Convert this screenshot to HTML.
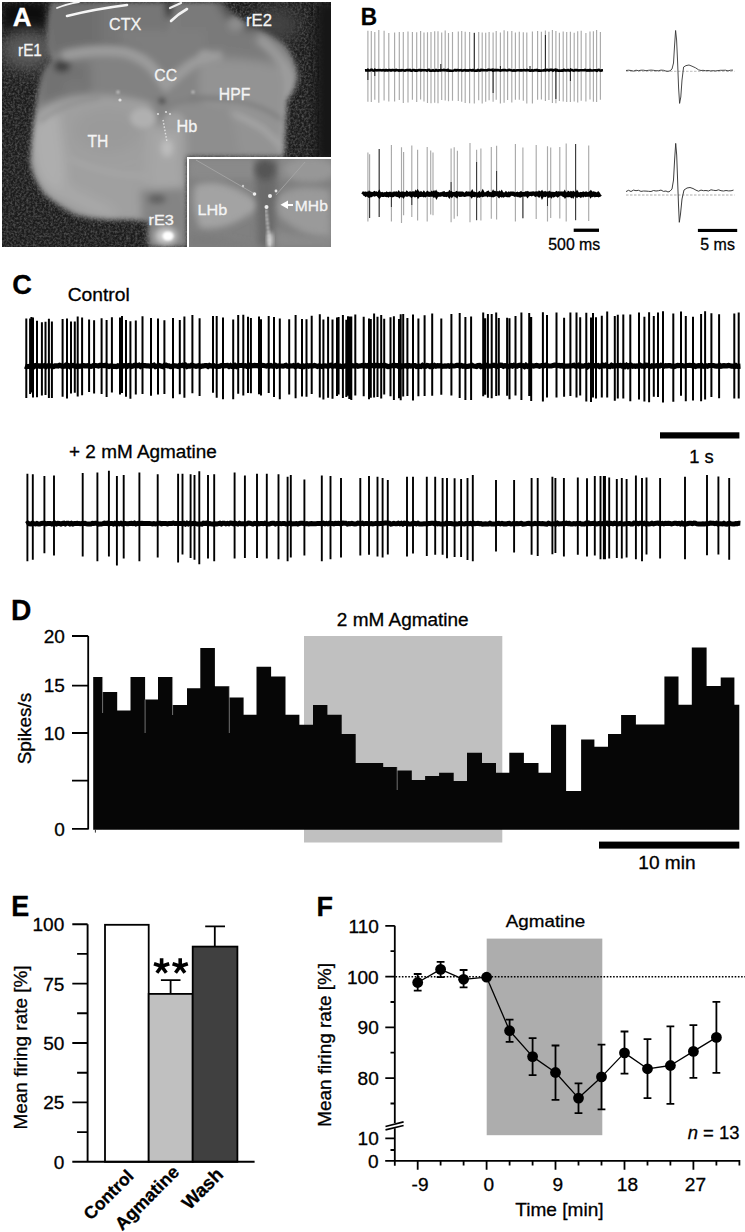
<!DOCTYPE html><html><head><meta charset="utf-8"><style>html,body{margin:0;padding:0;background:#fff;}svg{display:block;}text{font-family:"Liberation Sans",sans-serif;stroke:currentColor;stroke-width:0.3px;}</style></head><body>
<svg width="745" height="1232" viewBox="0 0 745 1232">
<rect width="745" height="1232" fill="#fff"/>
<defs>
<clipPath id="pa"><rect x="2" y="2" width="329" height="245"/></clipPath>
<clipPath id="pi"><rect x="189" y="159" width="142" height="88"/></clipPath>
<clipPath id="sil"><path d="M51 2 L222 2 Q232 14 252 26 Q270 34 284 44 Q296 58 298 76 Q296 90 287 100 L284 157 L187 157 L187 247 L149 247 Q146 232 149 222 Q130 219 112 220 Q90 219 75 215 Q58 206 45 195 Q34 182 30 164 Q31 140 35 112 Q37 92 41 80 Q44 68 52 60 Q47 52 47 40 Q46 20 51 2 Z"/></clipPath>
<filter id="b1" x="-20%" y="-20%" width="140%" height="140%"><feGaussianBlur stdDeviation="1"/></filter>
<filter id="b2" x="-20%" y="-20%" width="140%" height="140%"><feGaussianBlur stdDeviation="2"/></filter>
<filter id="b25" x="-10%" y="-10%" width="120%" height="120%"><feGaussianBlur stdDeviation="2.5"/></filter>
<filter id="b3" x="-20%" y="-20%" width="140%" height="140%"><feGaussianBlur stdDeviation="3"/></filter>
<filter id="b5" x="-30%" y="-30%" width="160%" height="160%"><feGaussianBlur stdDeviation="5"/></filter>
<filter id="b8" x="-40%" y="-40%" width="180%" height="180%"><feGaussianBlur stdDeviation="8"/></filter>
<filter id="grain" x="0" y="0" width="100%" height="100%"><feTurbulence type="fractalNoise" baseFrequency="0.45" numOctaves="2" seed="4"/><feColorMatrix type="matrix" values="0 0 0 0 0.22  0 0 0 0 0.22  0 0 0 0 0.22  0 0 0 1.1 -0.4"/></filter>
</defs>
<g clip-path="url(#pa)">
<rect x="2" y="2" width="329" height="245" fill="#1c1c1c"/>
<rect x="2" y="2" width="329" height="245" filter="url(#grain)"/>
<!-- dark corners -->
<rect x="2" y="2" width="45" height="30" fill="#0c0c0c" filter="url(#b5)"/>
<rect x="316" y="2" width="30" height="160" fill="#141414" filter="url(#b5)"/>
<!-- hazes -->
<ellipse cx="28" cy="50" rx="28" ry="20" fill="#5a5a5a" filter="url(#b8)"/>
<ellipse cx="275" cy="25" rx="24" ry="18" fill="#424242" filter="url(#b8)"/>
<ellipse cx="55" cy="80" rx="14" ry="14" fill="#4a4a4a" filter="url(#b5)"/>
<!-- tissue -->
<g filter="url(#b25)">
<g clip-path="url(#sil)">
<rect x="2" y="2" width="329" height="245" fill="#858585"/>
<!-- CTX left -->
<path d="M40 0 L168 0 L168 50 Q140 48 110 46 Q80 48 50 56 Z" fill="#6e6e6e" filter="url(#b3)"/>
<path d="M100 0 L168 0 L168 50 L100 46 Z" fill="#767676" filter="url(#b5)"/>
<!-- CTX right -->
<path d="M172 0 L230 0 Q250 20 280 40 L290 60 Q250 58 215 52 Q190 58 176 60 Z" fill="#7a7a7a" filter="url(#b3)"/>
<path d="M215 0 L235 0 Q245 14 262 28 Q250 34 232 26 Z" fill="#555" filter="url(#b3)"/>
<ellipse cx="236" cy="24" rx="9" ry="8" fill="#8c8c8c" filter="url(#b2)"/>
<!-- inside V above CC -->
<path d="M120 40 Q150 50 165 78 Q180 62 205 48 L205 30 L120 30 Z" fill="#7e7e7e" filter="url(#b3)"/>
<!-- mid notch -->
<path d="M164 2 L174 2 L171 18 L167 18 Z" fill="#3a3a3a" filter="url(#b2)"/>
<!-- below CC dark-ish zone -->
<path d="M40 60 Q90 52 140 62 Q160 80 165 95 L165 104 Q120 96 70 100 Q50 102 40 110 Z" fill="#828282" filter="url(#b3)"/>
<path d="M40 62 Q65 58 90 62 L90 95 Q60 98 40 105 Z" fill="#727272" filter="url(#b5)"/>
<ellipse cx="62" cy="66" rx="8" ry="6" fill="#3c3c3c" filter="url(#b2)"/>
<ellipse cx="75" cy="88" rx="12" ry="8" fill="#777" filter="url(#b3)"/>
<!-- HPF light -->
<path d="M200 62 Q245 56 290 70 L292 100 L286 157 L230 157 Q215 130 205 110 Q195 95 200 62 Z" fill="#939393" filter="url(#b3)"/>
<path d="M215 108 Q240 115 262 128 Q275 140 285 150" stroke="#a8a8a8" stroke-width="5" fill="none" filter="url(#b2)"/>
<path d="M190 98 Q220 96 250 104 Q270 110 285 122" stroke="#7a7a7a" stroke-width="3" fill="none" filter="url(#b1)"/>
<path d="M258 38 Q284 56 290 80 Q289 120 283 156" stroke="#a0a0a0" stroke-width="9" fill="none" filter="url(#b3)"/>
<ellipse cx="205" cy="56" rx="7" ry="6" fill="#a0a0a0" filter="url(#b2)"/>
<!-- middle band right of midline -->
<path d="M172 104 L230 104 L240 157 L187 157 L175 150 Z" fill="#8e8e8e" filter="url(#b3)"/>
<!-- CC band -->
<path d="M62 56 Q95 48 125 52 Q145 58 156 72 Q162 82 166 86 Q178 74 192 64 Q205 56 222 56" stroke="#9c9c9c" stroke-width="10" fill="none" filter="url(#b2)"/>
<!-- dark line below CC -->
<path d="M60 98 Q110 94 150 98 Q162 100 170 104 Q200 96 230 100" stroke="#7c7c7c" stroke-width="2.5" fill="none" filter="url(#b1)"/>
<!-- TH -->
<path d="M36 114 Q50 100 75 96 Q110 92 150 102 Q158 130 155 170 Q150 200 145 219 Q120 221 90 218 Q62 208 45 195 Q32 175 32 150 Z" fill="#a0a0a0" filter="url(#b3)"/>
<path d="M32 130 Q40 112 58 110 Q66 150 66 195 Q50 192 40 178 Q31 158 32 130 Z" fill="#aeaeae" filter="url(#b5)"/>
<path d="M60 195 Q85 214 120 219 L110 205 Q85 195 60 180 Z" fill="#a8a8a8" filter="url(#b5)"/>
<ellipse cx="108" cy="130" rx="35" ry="22" fill="#9a9a9a" filter="url(#b8)"/>
<path d="M68 158 Q105 176 150 176" stroke="#a9a9a9" stroke-width="3" fill="none" filter="url(#b1)"/>
<path d="M40 122 Q60 104 100 98" stroke="#8a8a8a" stroke-width="2.5" fill="none" filter="url(#b1)"/>
<!-- middle column -->
<path d="M148 125 L184 125 L187 205 L146 205 Z" fill="#a6a6a6" filter="url(#b5)"/>
<ellipse cx="167" cy="148" rx="6" ry="9" fill="#bdbdbd" filter="url(#b2)"/>
<!-- rE3 region -->
<path d="M140 190 L187 188 L187 247 L145 247 Q142 225 140 190 Z" fill="#848484" filter="url(#b3)"/>
<ellipse cx="157" cy="199" rx="9" ry="5" fill="#606060" filter="url(#b2)"/>
<!-- Hb lobes -->
<ellipse cx="143" cy="118" rx="13" ry="10" fill="#b0b0b0" filter="url(#b1)"/>
<ellipse cx="174" cy="121" rx="11" ry="9" fill="#9f9f9f" filter="url(#b1)"/>
<ellipse cx="162" cy="101" rx="3" ry="3" fill="#3a3a3a" filter="url(#b1)"/>
</g>
</g>
<!-- bottom-left dark pocket under TH near rE3 -->
<!-- dots -->
<path d="M163 120 L167 142" stroke="#e0e0e0" stroke-width="1.4" stroke-dasharray="1.5,1.8" fill="none"/>
<circle cx="118" cy="92" r="1.5" fill="#d0d0d0" filter="url(#b1)"/>
<circle cx="120" cy="100" r="1.6" fill="#e0e0e0"/>
<circle cx="158" cy="114" r="1.1" fill="#ddd"/>
<circle cx="166" cy="112" r="1.1" fill="#ddd"/>
<circle cx="170" cy="114" r="1.1" fill="#ddd"/>
<circle cx="193" cy="92" r="1.5" fill="#c8c8c8" filter="url(#b1)"/>
<!-- bright spot rE3 -->
<ellipse cx="166" cy="236" rx="11" ry="8.5" fill="#cfcfcf" filter="url(#b3)"/>
<ellipse cx="168" cy="236" rx="5.5" ry="4.5" fill="#fff" filter="url(#b1)"/>
<!-- electrodes -->
<path d="M57 8 Q66 4 79 2" stroke="#f2f2f2" stroke-width="1.8" fill="none" stroke-linecap="round"/>
<path d="M67 16 Q95 9 127 5" stroke="#f6f6f6" stroke-width="2.6" fill="none" stroke-linecap="round"/>
<path d="M170 8 L181 3" stroke="#eee" stroke-width="2.2" fill="none" stroke-linecap="round"/>
<path d="M171 21 Q178 14 187 9" stroke="#f2f2f2" stroke-width="2.6" fill="none" stroke-linecap="round"/>
</g>
<!-- inset -->
<rect x="187" y="157" width="144" height="91" fill="#fff"/>
<g clip-path="url(#pi)">
<rect x="189" y="159" width="142" height="88" fill="#808080"/>
<g filter="url(#b1)">
<rect x="189" y="159" width="142" height="20" fill="#8a8a8a" filter="url(#b3)"/>
<ellipse cx="310" cy="170" rx="25" ry="12" fill="#979797" filter="url(#b3)"/>
<path d="M195 185 Q225 175 262 205 Q230 232 200 228 Q190 205 195 185 Z" fill="#a3a3a3" filter="url(#b3)"/>
<path d="M268 205 Q290 180 330 190 L331 238 Q300 240 268 205 Z" fill="#9a9a9a" filter="url(#b3)"/>
<path d="M255 159 L278 159 L274 247 L258 247 Z" fill="#6a6a6a" filter="url(#b3)"/>
<ellipse cx="265" cy="170" rx="10" ry="10" fill="#555" filter="url(#b3)"/>
<path d="M189 232 Q230 240 262 247 L189 247 Z" fill="#7c7c7c" filter="url(#b3)"/>
<path d="M276 230 Q300 238 331 236 L331 247 L276 247 Z" fill="#8a8a8a" filter="url(#b3)"/>
</g>
<path d="M266 210 L270 247" stroke="#e6e6e6" stroke-width="2.2" stroke-dasharray="2.5,1.6" fill="none" filter="url(#b1)"/>
<ellipse cx="270" cy="240" rx="3" ry="8" fill="#d8d8d8" filter="url(#b2)"/>
<path d="M196 160 L253 193 M305 162 L276 195" stroke="#a8a8a8" stroke-width="0.8" fill="none"/>
<circle cx="254.5" cy="194" r="1.8" fill="#f0f0f0"/>
<circle cx="270" cy="196" r="2" fill="#f0f0f0"/>
<circle cx="276" cy="191" r="1.4" fill="#e8e8e8"/>
<circle cx="266.5" cy="207" r="2" fill="#eee"/>
<circle cx="243" cy="186" r="1.2" fill="#ccc"/>
<path d="M293 205 L284 205" stroke="#fff" stroke-width="2" fill="none"/>
<path d="M280.5 204.8 L288 200.5 L288 209 Z" fill="#fff"/>
</g>

<g>
<text transform="translate(12.72,26.15) scale(1.030,1)" font-size="25.29" font-weight="bold" fill="#fff" color="#fff">A</text>
<text transform="translate(109.09,29.63) scale(0.971,1)" font-size="16.62" fill="#f4f4f4" color="#f4f4f4">CTX</text>
<text transform="translate(18.03,56.00) scale(0.913,1)" font-size="16.81" fill="#f4f4f4" color="#f4f4f4">rE1</text>
<text transform="translate(246.03,26.10) scale(1.023,1)" font-size="16.29" fill="#f4f4f4" color="#f4f4f4">rE2</text>
<text transform="translate(154.31,80.74) scale(0.974,1)" font-size="16.20" fill="#f4f4f4" color="#f4f4f4">CC</text>
<text transform="translate(218.84,99.60) scale(0.997,1)" font-size="15.80" fill="#f4f4f4" color="#f4f4f4">HPF</text>
<text transform="translate(176.60,132.00) scale(1.034,1)" font-size="15.75" fill="#f4f4f4" color="#f4f4f4">Hb</text>
<text transform="translate(87.49,146.80) scale(0.918,1)" font-size="17.10" fill="#f4f4f4" color="#f4f4f4">TH</text>
<text transform="translate(148.56,224.85) scale(1.093,1)" font-size="14.93" fill="#f4f4f4" color="#f4f4f4">rE3</text>
<text transform="translate(197.50,214.90) scale(1.089,1)" font-size="14.93" fill="#f4f4f4" color="#f4f4f4">LHb</text>
<text transform="translate(294.85,211.40) scale(1.066,1)" font-size="14.66" fill="#f4f4f4" color="#f4f4f4">MHb</text>
</g>
<text transform="translate(360.82,24.80) scale(0.946,1)" font-size="23.91" font-weight="bold" fill="#000" color="#000">B</text>
<path d="M367.9 30.7V101.7M371.3 31.1V101.9M374.8 31.9V99.8M378.8 30.0V102.8M384.1 30.8V100.4M388.8 33.0V101.4M394.6 32.5V101.4M399.3 31.9V100.1M403.3 31.9V103.0M408.0 31.6V102.5M412.4 32.0V99.8M416.7 32.3V101.9M420.6 30.9V99.6M424.0 32.6V101.4M427.5 32.2V103.0M431.0 32.1V103.2M434.7 31.2V102.7M438.0 31.3V103.2M441.7 32.6V99.9M445.2 30.4V100.4M448.5 32.9V101.2M452.5 31.9V100.7M458.3 31.5V101.0M461.7 31.1V101.8M465.2 31.8V103.1M469.6 32.0V103.2M474.3 32.6V103.5M478.7 32.0V100.2M482.2 32.6V103.4M485.7 32.7V101.8M489.1 32.1V100.3M493.1 32.5V101.8M496.2 30.9V99.8M500.4 32.6V103.5M504.1 30.3V102.7M507.6 31.2V100.1M511.8 30.9V102.6M515.4 32.6V99.7M519.3 31.8V99.7M523.3 32.2V100.8M526.8 32.6V103.4M532.4 31.5V103.5M537.6 30.9V99.8M541.4 31.8V99.6M545.4 30.6V101.1M548.9 31.8V100.1M552.4 30.1V103.0M555.9 30.9V103.3M559.4 32.7V101.0M563.2 31.4V101.6M566.7 31.9V101.9M570.4 31.7V102.0M574.2 32.8V101.5M577.7 31.3V102.4M581.2 30.7V100.7M585.9 32.9V101.6M590.0 31.6V99.5M593.4 31.2V101.8M596.6 30.1V102.0M600.4 31.9V99.7" stroke="#aaa" stroke-width="1.15" fill="none"/>
<path d="M474.3 33V72M545.4 35V72M493.1 68V93M555.9 68V99M570.4 68V81M367.9 68V80M374.8 68V76M440.8 64V72M500.4 66V72M530 66V72" stroke="#222" stroke-width="1" fill="none"/>
<polyline points="365.0,70.4 366.0,70.3 367.0,70.5 368.0,70.2 369.0,70.5 370.0,70.5 371.0,69.9 372.0,69.9 373.0,70.5 374.0,70.7 375.0,70.1 376.0,70.3 377.0,70.4 378.0,70.1 379.0,70.2 380.0,70.1 381.0,70.2 382.0,70.4 383.0,70.1 384.0,70.2 385.0,70.5 386.0,69.9 387.0,70.4 388.0,70.5 389.0,70.1 390.0,70.1 391.0,70.6 392.0,70.1 393.0,70.0 394.0,70.2 395.0,70.5 396.0,69.9 397.0,70.1 398.0,70.2 399.0,70.6 400.0,70.2 401.0,70.6 402.0,70.0 403.0,70.2 404.0,70.4 405.0,70.6 406.0,70.3 407.0,70.1 408.0,70.0 409.0,70.3 410.0,70.0 411.0,70.6 412.0,70.6 413.0,70.0 414.0,70.1 415.0,70.6 416.0,70.4 417.0,70.6 418.0,70.2 419.0,70.0 420.0,70.1 421.0,70.6 422.0,70.1 423.0,70.2 424.0,70.2 425.0,70.2 426.0,70.2 427.0,70.7 428.0,70.0 429.0,69.9 430.0,70.7 431.0,70.6 432.0,70.7 433.0,70.2 434.0,70.7 435.0,70.7 436.0,70.0 437.0,70.5 438.0,70.6 439.0,70.4 440.0,70.3 441.0,70.1 442.0,70.2 443.0,70.1 444.0,69.9 445.0,70.4 446.0,70.1 447.0,70.6 448.0,69.9 449.0,70.7 450.0,70.5 451.0,70.7 452.0,70.7 453.0,70.7 454.0,70.4 455.0,69.9 456.0,70.5 457.0,70.0 458.0,70.1 459.0,70.4 460.0,70.3 461.0,70.2 462.0,70.7 463.0,70.4 464.0,70.2 465.0,70.1 466.0,70.6 467.0,70.3 468.0,70.6 469.0,70.2 470.0,70.0 471.0,70.3 472.0,70.6 473.0,70.0 474.0,70.6 475.0,70.7 476.0,70.6 477.0,70.6 478.0,69.9 479.0,70.4 480.0,70.6 481.0,69.9 482.0,70.1 483.0,70.1 484.0,70.3 485.0,70.2 486.0,70.3 487.0,70.5 488.0,69.9 489.0,69.9 490.0,70.0 491.0,70.0 492.0,69.9 493.0,70.7 494.0,70.6 495.0,69.9 496.0,70.3 497.0,70.1 498.0,70.1 499.0,70.2 500.0,70.4 501.0,70.4 502.0,70.2 503.0,70.0 504.0,70.1 505.0,70.0 506.0,70.3 507.0,70.5 508.0,70.2 509.0,69.9 510.0,70.0 511.0,70.2 512.0,70.4 513.0,70.6 514.0,70.2 515.0,70.6 516.0,70.4 517.0,70.2 518.0,70.2 519.0,70.3 520.0,70.5 521.0,70.2 522.0,70.5 523.0,70.3 524.0,70.1 525.0,70.3 526.0,70.5 527.0,69.9 528.0,70.2 529.0,70.2 530.0,70.6 531.0,70.7 532.0,70.2 533.0,70.7 534.0,70.6 535.0,70.1 536.0,70.3 537.0,70.0 538.0,70.6 539.0,70.4 540.0,70.6 541.0,70.6 542.0,70.5 543.0,70.5 544.0,70.4 545.0,69.9 546.0,70.4 547.0,69.9 548.0,70.0 549.0,70.5 550.0,69.9 551.0,69.9 552.0,69.9 553.0,70.6 554.0,70.0 555.0,69.9 556.0,70.6 557.0,70.0 558.0,70.6 559.0,70.5 560.0,70.6 561.0,70.7 562.0,70.4 563.0,70.6 564.0,69.9 565.0,70.5 566.0,70.3 567.0,70.5 568.0,69.9 569.0,70.5 570.0,70.7 571.0,69.9 572.0,70.1 573.0,70.4 574.0,70.6 575.0,70.1 576.0,70.0 577.0,70.1 578.0,70.4 579.0,70.5 580.0,70.2 581.0,70.2 582.0,70.2 583.0,70.2 584.0,70.2 585.0,69.9 586.0,70.3 587.0,70.7 588.0,70.2 589.0,70.5 590.0,70.0 591.0,70.5 592.0,70.5 593.0,70.5 594.0,70.3 595.0,70.3 596.0,70.4 597.0,70.7 598.0,70.0 599.0,69.9 600.0,70.5 601.0,70.7 602.0,70.3 603.0,70.2" stroke="#000" stroke-width="2.6" fill="none"/>
<path d="M367.9 152.5V221.4M369.6 154.2V217.9M379.2 149.0V217.0M391.4 145.1V221.4M401.5 147.2V223.1M403.6 152.1V215.3M411.8 145.5V217.0M417.6 149.8V220.5M427.2 146.9V221.4M430.7 150.4V214.4M433.0 152.5V215.3M451.1 148.6V222.3M454.2 147.2V218.8M457.4 150.7V216.2M470.0 142.9V222.3M476.6 149.8V220.5M480.9 148.6V220.5M491.3 146.9V218.8M496.6 145.8V219.6M515.4 144.1V221.4M522.9 147.6V218.8M536.2 145.1V219.1M547.5 146.3V221.4M550.7 147.6V217.9M559.8 146.9V218.4M566.2 143.4V221.4M575.6 144.1V220.5M588.7 145.5V220.9" stroke="#aaa" stroke-width="1.15" fill="none"/>
<path d="M379.2 149V217M476.6 162V220M496.6 171V192M522.9 195V218M575.6 144V220M391.4 194V207M411.8 194V205M369.6 194V218M547.5 194V206M451.1 182V194" stroke="#333" stroke-width="1" fill="none"/>
<polyline points="363.0,194.7 363.7,193.7 364.4,193.9 365.1,193.8 365.8,194.5 366.5,194.0 367.2,193.8 367.9,194.6 368.6,195.1 369.3,193.9 370.0,194.7 370.7,194.1 371.4,194.9 372.1,194.5 372.8,193.9 373.5,193.8 374.2,193.4 374.9,194.3 375.6,194.1 376.3,193.7 377.0,194.0 377.7,194.0 378.4,194.8 379.1,193.7 379.8,195.2 380.5,194.3 381.2,194.5 381.9,194.2 382.6,194.9 383.3,194.9 384.0,194.4 384.7,194.3 385.4,194.7 386.1,194.9 386.8,194.1 387.5,194.7 388.2,195.1 388.9,194.2 389.6,193.8 390.3,193.8 391.0,194.7 391.7,194.6 392.4,195.1 393.1,194.9 393.8,193.8 394.5,193.7 395.2,193.9 395.9,193.7 396.6,194.7 397.3,194.9 398.0,195.0 398.7,193.9 399.4,195.0 400.1,194.0 400.8,194.2 401.5,194.7 402.2,193.6 402.9,193.6 403.6,194.9 404.3,193.9 405.0,194.0 405.7,194.4 406.4,194.6 407.1,193.4 407.8,194.0 408.5,194.2 409.2,194.3 409.9,193.8 410.6,194.5 411.3,195.1 412.0,194.1 412.7,194.4 413.4,193.6 414.1,193.9 414.8,194.6 415.5,193.6 416.2,195.0 416.9,195.0 417.6,193.6 418.3,195.1 419.0,194.1 419.7,194.8 420.4,194.8 421.1,193.9 421.8,194.6 422.5,194.6 423.2,194.9 423.9,193.9 424.6,194.8 425.3,195.1 426.0,194.6 426.7,194.4 427.4,193.6 428.1,194.3 428.8,194.0 429.5,194.7 430.2,194.6 430.9,194.4 431.6,193.7 432.3,194.6 433.0,194.5 433.7,193.7 434.4,195.0 435.1,194.6 435.8,193.6 436.5,195.1 437.2,193.7 437.9,194.0 438.6,194.7 439.3,194.5 440.0,194.4 440.7,194.6 441.4,194.2 442.1,194.0 442.8,193.7 443.5,193.5 444.2,194.7 444.9,194.8 445.6,194.4 446.3,194.7 447.0,194.0 447.7,193.9 448.4,194.1 449.1,195.0 449.8,193.5 450.5,194.3 451.2,193.8 451.9,194.8 452.6,194.0 453.3,194.0 454.0,194.1 454.7,194.4 455.4,194.8 456.1,194.0 456.8,194.9 457.5,193.6 458.2,193.9 458.9,193.6 459.6,193.6 460.3,194.8 461.0,194.7 461.7,193.7 462.4,193.7 463.1,194.1 463.8,194.7 464.5,194.9 465.2,194.7 465.9,194.5 466.6,193.7 467.3,194.1 468.0,193.7 468.7,194.3 469.4,194.4 470.1,193.8 470.8,193.9 471.5,194.8 472.2,193.5 472.9,194.8 473.6,195.0 474.3,195.1 475.0,194.1 475.7,194.4 476.4,194.4 477.1,194.5 477.8,195.2 478.5,194.6 479.2,193.9 479.9,194.9 480.6,194.3 481.3,194.5 482.0,194.7 482.7,193.4 483.4,194.8 484.1,194.6 484.8,194.3 485.5,194.3 486.2,194.2 486.9,193.7 487.6,194.4 488.3,193.5 489.0,194.3 489.7,194.6 490.4,194.2 491.1,194.4 491.8,195.1 492.5,195.0 493.2,193.6 493.9,194.8 494.6,194.5 495.3,193.5 496.0,194.0 496.7,193.8 497.4,193.5 498.1,194.4 498.8,195.1 499.5,194.0 500.2,195.0 500.9,194.7 501.6,193.6 502.3,194.9 503.0,194.5 503.7,195.1 504.4,194.7 505.1,194.7 505.8,194.0 506.5,194.9 507.2,195.1 507.9,195.0 508.6,194.2 509.3,194.8 510.0,194.3 510.7,193.6 511.4,193.5 512.1,193.5 512.8,193.8 513.5,193.7 514.2,194.3 514.9,194.7 515.6,194.4 516.3,194.2 517.0,194.6 517.7,193.9 518.4,194.2 519.1,194.8 519.8,194.1 520.5,193.7 521.2,195.0 521.9,194.7 522.6,194.1 523.3,194.1 524.0,194.4 524.7,194.5 525.4,193.8 526.1,193.4 526.8,193.8 527.5,194.8 528.2,193.7 528.9,194.2 529.6,193.8 530.3,193.8 531.0,193.7 531.7,194.1 532.4,193.7 533.1,193.4 533.8,193.6 534.5,193.7 535.2,194.3 535.9,193.5 536.6,193.4 537.3,194.2 538.0,194.1 538.7,194.7 539.4,193.5 540.1,194.1 540.8,194.1 541.5,193.4 542.2,195.1 542.9,193.8 543.6,193.6 544.3,194.3 545.0,193.7 545.7,194.5 546.4,194.0 547.1,193.6 547.8,193.5 548.5,194.7 549.2,193.9 549.9,194.8 550.6,194.2 551.3,195.1 552.0,193.9 552.7,193.8 553.4,193.9 554.1,194.9 554.8,194.5 555.5,194.0 556.2,193.6 556.9,194.6 557.6,195.1 558.3,194.5 559.0,193.4 559.7,193.5 560.4,193.6 561.1,193.7 561.8,193.5 562.5,193.5 563.2,194.6 563.9,195.0 564.6,193.8 565.3,195.2 566.0,194.3 566.7,194.8 567.4,195.1 568.1,195.1 568.8,193.5 569.5,193.9 570.2,194.5 570.9,195.1 571.6,193.6 572.3,193.9 573.0,194.9 573.7,193.6 574.4,194.1 575.1,194.0 575.8,194.6 576.5,195.1 577.2,193.7 577.9,194.7 578.6,194.7 579.3,194.9 580.0,194.4 580.7,195.1 581.4,194.1 582.1,194.1 582.8,193.8 583.5,194.8 584.2,194.3 584.9,193.9 585.6,193.7 586.3,194.7 587.0,194.5 587.7,194.7 588.4,194.1 589.1,194.3 589.8,193.7 590.5,194.7 591.2,193.4 591.9,194.2 592.6,194.8 593.3,194.6 594.0,193.6 594.7,193.8 595.4,194.9 596.1,194.6 596.8,195.0 597.5,195.0 598.2,194.2 598.9,195.0 599.6,194.7 600.3,194.0" stroke="#000" stroke-width="4.2" fill="none"/>
<line x1="626" y1="71.3" x2="734.5" y2="71.3" stroke="#aaa" stroke-width="0.8" stroke-dasharray="2.5,1.5"/>
<polyline points="626.0,70.5 628.5,70.2 631.0,70.5 633.5,71.1 636.0,70.2 638.5,70.7 641.0,70.2 643.5,70.2 646.0,70.7 648.5,70.3 651.0,70.1 653.5,70.3 656.0,70.7 658.5,70.7 661.0,70.1 663.5,70.3 666.0,71.1 668,71.3 670,70.8 672,69 673.5,63 674.6,45 675.6,30.5 676.6,40 677.6,62 678.6,88 679.6,103.4 680.8,97 682,80 683.6,67 686,65.6 689,65 692,66.2 695.7,67.9 698.5,69.8 701,70.5 703.0,70.3 705.5,70.7 708.0,70.5 710.5,70.9 713.0,70.7 715.5,70.9 718.0,70.6 720.5,70.3 723.0,70.3 725.5,70.2 728.0,70.9 730.5,70.2 733.0,70.1" stroke="#333" stroke-width="0.9" fill="none" stroke-linejoin="round"/>
<line x1="626" y1="195" x2="734.5" y2="195" stroke="#999" stroke-width="0.8" stroke-dasharray="2.5,1.5"/>
<polyline points="626.0,191.6 628.5,190.3 631.0,191.5 633.5,190.1 636.0,190.7 638.5,190.3 641.0,191.4 643.5,191.0 646.0,191.1 648.5,191.3 651.0,191.5 653.5,190.5 656.0,191.0 658.5,190.7 661.0,190.1 663.5,191.4 666.0,191.0 668,192 670,191.2 672,189 673.5,180 674.6,160 675.7,143.4 676.7,155 677.6,180 678.5,205 679.3,222.3 680.5,214 682,199 684,190 687,188 690,187.5 693,188.5 696,190.2 698.5,191.2 701.0,190.1 703.5,190.7 706.0,190.5 708.5,191.0 711.0,189.8 713.5,190.3 716.0,190.6 718.5,189.8 721.0,190.7 723.5,191.0 726.0,190.5 728.5,190.9 731.0,190.8 733.5,190.1" stroke="#333" stroke-width="0.95" fill="none" stroke-linejoin="round"/>
<rect x="573.7" y="228.6" width="25.3" height="3.3" fill="#000"/>
<text transform="translate(548.26,249.74) scale(0.980,1)" font-size="16.20" fill="#000" color="#000">500 ms</text>
<rect x="697.9" y="228.9" width="39.3" height="3.1" fill="#000"/>
<text transform="translate(700.26,249.54) scale(0.981,1)" font-size="16.29" fill="#000" color="#000">5 ms</text>
<text transform="translate(12.21,294.42) scale(0.986,1)" font-size="27.61" font-weight="bold" fill="#000" color="#000">C</text>
<text transform="translate(67.64,301.12) scale(1.072,1)" font-size="17.97" fill="#000" color="#000">Control</text>
<path d="M26.3 318.6V398.0M30.1 318.5V394.1M31.4 316.9V392.6M33.0 317.4V397.6M37.0 320.7V397.3M41.9 322.2V395.5M45.5 321.8V395.0M48.9 318.7V397.9M51.9 321.5V398.0M62.6 319.0V396.8M67.0 318.5V398.4M71.0 321.5V393.5M74.8 321.6V392.8M77.7 316.5V396.6M82.1 317.6V395.2M89.1 319.6V391.9M94.1 320.2V393.5M101.6 318.3V394.1M106.6 320.1V396.9M111.9 317.3V392.5M120.0 317.4V394.6M122.0 316.0V392.9M126.0 320.1V396.7M130.4 321.3V398.7M135.8 320.6V394.5M142.5 316.3V394.1M151.0 318.1V395.7M158.0 318.5V394.6M164.4 320.3V394.1M173.0 317.9V398.3M179.8 320.0V394.2M184.4 316.5V397.8M192.4 315.1V393.2M199.6 318.2V396.0M213.0 315.9V392.7M216.7 316.1V397.7M223.0 317.6V399.2M233.2 319.5V399.3M238.2 315.0V393.8M243.3 314.8V395.5M248.0 316.7V392.9M250.9 317.9V393.2M259.0 316.4V394.3M261.0 319.3V395.6M268.7 316.0V393.0M274.0 317.0V397.1M279.8 318.4V399.2M289.2 319.2V394.5M295.6 315.1V398.2M302.0 319.0V396.4M306.5 319.2V396.8M311.7 315.8V394.1M319.8 314.2V397.5M323.4 319.4V399.4M328.1 316.8V397.7M332.5 319.5V398.8M337.0 317.5V396.1M338.6 317.0V394.4M342.9 314.9V398.0M346.3 319.7V397.1M348.0 316.2V395.8M349.3 316.4V399.0M351.3 316.4V400.1M355.3 314.5V395.6M363.7 316.7V396.3M369.0 318.6V399.3M370.8 319.0V397.8M374.1 313.6V397.6M377.5 316.7V397.0M381.2 315.0V398.6M384.2 318.7V394.4M390.5 317.2V396.3M393.9 316.3V400.0M399.0 318.9V398.3M400.7 314.3V400.3M403.2 314.1V396.6M407.4 318.0V396.1M413.0 314.6V400.6M418.4 318.6V396.2M424.6 315.2V396.0M432.2 313.6V395.8M441.3 318.6V394.7M451.4 314.1V395.6M459.7 313.1V397.9M465.4 317.1V400.1M471.1 316.4V400.0M483.2 312.6V396.3M485.2 318.3V394.8M487.9 314.0V397.8M491.7 314.0V398.2M496.2 312.6V396.1M498.8 318.0V395.5M507.1 317.7V395.8M509.5 318.2V399.3M515.5 316.0V395.6M521.4 312.4V400.0M529.2 313.1V396.0M531.2 317.0V400.9M542.9 312.3V401.5M547.0 315.1V397.5M556.5 312.5V397.6M564.1 317.8V396.8M570.4 312.6V395.9M576.5 312.5V397.4M580.2 317.2V395.5M586.3 312.8V401.6M591.0 317.6V401.9M593.0 313.0V397.6M596.0 317.2V398.5M601.8 315.7V397.4M607.2 311.6V397.6M614.8 315.9V400.7M617.8 314.7V398.6M623.3 314.5V398.4M630.3 314.4V401.2M639.0 312.4V399.6M644.4 316.7V401.4M649.1 312.2V402.2M653.8 316.1V396.7M658.0 312.6V397.0M663.0 311.3V402.5M673.3 313.4V401.8M681.0 311.6V395.8M685.8 316.0V401.3M693.0 316.7V400.6M701.1 313.9V401.2M705.1 311.2V399.6M711.4 313.3V396.9M719.1 314.2V398.2M734.3 313.6V398.6M738.7 312.4V398.5" stroke="#000" stroke-width="2" fill="none"/>
<polyline points="25.0,366.0 26.5,366.6 28.0,366.5 29.5,366.4 31.0,366.4 32.5,365.6 34.0,366.6 35.5,365.6 37.0,365.4 38.5,365.9 40.0,366.2 41.5,365.7 43.0,366.1 44.5,365.6 46.0,366.6 47.5,365.8 49.0,365.9 50.5,365.9 52.0,366.4 53.5,366.6 55.0,365.9 56.5,365.8 58.0,366.1 59.5,365.3 61.0,365.8 62.5,366.4 64.0,366.3 65.5,365.3 67.0,366.4 68.5,365.7 70.0,366.6 71.5,365.7 73.0,365.5 74.5,366.0 76.0,366.4 77.5,365.8 79.0,366.4 80.5,366.2 82.0,365.7 83.5,365.6 85.0,365.9 86.5,365.8 88.0,365.7 89.5,366.1 91.0,366.4 92.5,366.0 94.0,365.4 95.5,365.5 97.0,365.7 98.5,366.1 100.0,365.4 101.5,365.3 103.0,365.6 104.5,365.6 106.0,365.2 107.5,366.0 109.0,366.5 110.5,365.9 112.0,366.2 113.5,366.4 115.0,366.4 116.5,366.5 118.0,365.8 119.5,366.2 121.0,365.4 122.5,366.4 124.0,365.7 125.5,365.9 127.0,366.4 128.5,365.6 130.0,365.5 131.5,366.4 133.0,366.0 134.5,365.3 136.0,365.2 137.5,365.7 139.0,365.2 140.5,366.4 142.0,365.5 143.5,365.6 145.0,365.7 146.5,365.9 148.0,365.8 149.5,366.1 151.0,366.1 152.5,365.8 154.0,365.3 155.5,366.6 157.0,366.2 158.5,365.3 160.0,365.8 161.5,366.3 163.0,366.6 164.5,365.3 166.0,365.2 167.5,365.9 169.0,365.8 170.5,366.5 172.0,366.4 173.5,365.7 175.0,365.8 176.5,366.0 178.0,366.4 179.5,365.5 181.0,365.7 182.5,365.3 184.0,366.1 185.5,365.2 187.0,366.5 188.5,365.9 190.0,366.0 191.5,365.3 193.0,365.5 194.5,365.9 196.0,366.4 197.5,366.0 199.0,365.6 200.5,366.6 202.0,366.1 203.5,365.9 205.0,365.5 206.5,365.6 208.0,366.5 209.5,365.4 211.0,365.9 212.5,366.1 214.0,365.7 215.5,366.3 217.0,366.5 218.5,366.4 220.0,366.2 221.5,365.5 223.0,365.3 224.5,365.8 226.0,365.6 227.5,365.5 229.0,366.4 230.5,365.5 232.0,366.4 233.5,366.5 235.0,365.4 236.5,366.5 238.0,365.8 239.5,365.5 241.0,365.5 242.5,365.3 244.0,365.9 245.5,365.7 247.0,366.4 248.5,366.4 250.0,365.3 251.5,365.8 253.0,365.7 254.5,365.4 256.0,365.6 257.5,365.6 259.0,366.2 260.5,365.7 262.0,365.4 263.5,365.5 265.0,365.8 266.5,366.0 268.0,365.5 269.5,366.2 271.0,365.5 272.5,366.1 274.0,366.1 275.5,365.4 277.0,366.3 278.5,365.8 280.0,366.0 281.5,366.0 283.0,366.1 284.5,365.8 286.0,365.3 287.5,366.3 289.0,366.4 290.5,365.9 292.0,366.0 293.5,365.6 295.0,366.5 296.5,366.2 298.0,365.5 299.5,366.3 301.0,366.6 302.5,365.7 304.0,366.6 305.5,365.9 307.0,365.5 308.5,366.2 310.0,365.7 311.5,366.2 313.0,366.0 314.5,365.4 316.0,365.9 317.5,366.4 319.0,365.9 320.5,366.0 322.0,366.4 323.5,365.8 325.0,365.9 326.5,366.0 328.0,366.4 329.5,365.5 331.0,365.3 332.5,366.3 334.0,366.0 335.5,365.6 337.0,366.4 338.5,366.4 340.0,366.0 341.5,366.6 343.0,366.4 344.5,366.2 346.0,365.6 347.5,365.2 349.0,366.2 350.5,366.2 352.0,365.7 353.5,365.9 355.0,366.0 356.5,365.5 358.0,366.2 359.5,366.0 361.0,365.7 362.5,365.4 364.0,366.0 365.5,365.6 367.0,366.2 368.5,365.4 370.0,365.8 371.5,365.5 373.0,365.8 374.5,366.0 376.0,365.3 377.5,365.3 379.0,365.9 380.5,365.5 382.0,365.9 383.5,365.4 385.0,365.3 386.5,366.0 388.0,366.5 389.5,366.4 391.0,365.9 392.5,365.8 394.0,365.3 395.5,365.6 397.0,365.6 398.5,366.5 400.0,365.4 401.5,366.5 403.0,365.9 404.5,365.8 406.0,365.6 407.5,366.5 409.0,365.5 410.5,366.0 412.0,365.9 413.5,365.5 415.0,365.5 416.5,366.6 418.0,366.3 419.5,366.2 421.0,366.5 422.5,365.3 424.0,366.2 425.5,366.3 427.0,365.5 428.5,365.8 430.0,366.6 431.5,365.7 433.0,366.3 434.5,365.4 436.0,366.1 437.5,365.6 439.0,365.9 440.5,365.7 442.0,366.4 443.5,366.2 445.0,365.9 446.5,366.2 448.0,365.8 449.5,366.3 451.0,365.6 452.5,366.0 454.0,366.0 455.5,365.7 457.0,365.3 458.5,365.4 460.0,366.1 461.5,365.5 463.0,366.3 464.5,365.9 466.0,366.5 467.5,366.4 469.0,366.2 470.5,365.7 472.0,365.3 473.5,366.0 475.0,366.2 476.5,366.5 478.0,365.5 479.5,365.4 481.0,366.6 482.5,366.2 484.0,365.9 485.5,366.2 487.0,365.4 488.5,366.0 490.0,366.1 491.5,366.0 493.0,365.4 494.5,365.4 496.0,366.1 497.5,366.4 499.0,365.4 500.5,365.2 502.0,365.3 503.5,366.3 505.0,365.7 506.5,365.8 508.0,366.6 509.5,366.1 511.0,365.6 512.5,366.2 514.0,365.2 515.5,365.6 517.0,366.2 518.5,365.4 520.0,365.2 521.5,365.9 523.0,365.7 524.5,366.6 526.0,365.3 527.5,366.3 529.0,365.7 530.5,366.3 532.0,365.8 533.5,366.1 535.0,365.7 536.5,365.5 538.0,365.8 539.5,366.3 541.0,365.7 542.5,365.5 544.0,365.8 545.5,365.3 547.0,365.6 548.5,366.0 550.0,366.0 551.5,366.0 553.0,365.6 554.5,365.2 556.0,365.2 557.5,365.7 559.0,365.5 560.5,366.0 562.0,365.6 563.5,366.3 565.0,366.0 566.5,366.1 568.0,366.2 569.5,365.9 571.0,365.8 572.5,365.6 574.0,365.3 575.5,366.3 577.0,365.9 578.5,365.3 580.0,366.5 581.5,366.0 583.0,366.1 584.5,365.8 586.0,365.4 587.5,366.6 589.0,365.4 590.5,365.7 592.0,366.6 593.5,365.4 595.0,365.9 596.5,365.9 598.0,365.5 599.5,366.5 601.0,365.8 602.5,365.2 604.0,365.9 605.5,365.2 607.0,366.2 608.5,366.4 610.0,366.5 611.5,365.3 613.0,366.1 614.5,365.6 616.0,365.9 617.5,365.6 619.0,365.6 620.5,365.4 622.0,366.1 623.5,365.3 625.0,366.5 626.5,365.3 628.0,366.5 629.5,365.5 631.0,365.3 632.5,366.2 634.0,365.9 635.5,366.3 637.0,365.9 638.5,366.1 640.0,365.3 641.5,366.1 643.0,365.9 644.5,366.5 646.0,365.2 647.5,365.3 649.0,366.1 650.5,366.5 652.0,365.8 653.5,366.2 655.0,366.0 656.5,365.7 658.0,365.9 659.5,366.0 661.0,365.2 662.5,365.6 664.0,366.2 665.5,365.6 667.0,365.9 668.5,365.6 670.0,365.7 671.5,366.1 673.0,366.2 674.5,366.5 676.0,365.9 677.5,365.5 679.0,365.7 680.5,365.3 682.0,365.5 683.5,366.0 685.0,366.1 686.5,365.5 688.0,365.5 689.5,365.3 691.0,365.5 692.5,365.9 694.0,365.6 695.5,366.4 697.0,366.0 698.5,365.7 700.0,365.8 701.5,365.3 703.0,366.2 704.5,366.3 706.0,365.7 707.5,366.2 709.0,365.6 710.5,365.5 712.0,365.5 713.5,365.5 715.0,366.0 716.5,366.1 718.0,366.2 719.5,365.3 721.0,366.3 722.5,365.9 724.0,365.7 725.5,365.9 727.0,365.8 728.5,365.5 730.0,365.8 731.5,366.1 733.0,366.2 734.5,366.5 736.0,365.5 737.5,366.4 739.0,366.3 740.5,366.2" stroke="#000" stroke-width="5.2" fill="none"/>
<text transform="translate(69.05,457.82) scale(1.053,1)" font-size="17.98" fill="#000" color="#000">+ 2 mM Agmatine</text>
<rect x="660" y="432.3" width="79.4" height="6.2" fill="#000"/>
<text transform="translate(689.13,462.52) scale(1.028,1)" font-size="17.86" fill="#000" color="#000">1 s</text>
<path d="M27.4 473.8V561.3M32.8 474.3V559.7M44.4 476.0V553.2M54.0 475.4V555.6M82.7 473.0V556.6M97.4 472.4V561.3M108.9 470.7V556.6M116.9 476.0V565.6M123.7 475.0V558.6M139.4 472.4V561.3M157.7 474.3V557.5M178.1 473.8V562.6M182.5 473.8V554.6M190.6 474.3V558.0M194.5 475.1V559.7M199.3 471.3V564.2M208.0 475.1V558.6M214.2 474.3V561.3M234.6 472.4V558.6M244.9 475.6V557.9M257.0 473.8V557.9M266.8 473.8V558.6M278.5 474.3V559.3M287.6 476.7V561.3M290.8 475.1V557.5M304.4 479.4V555.6M321.8 475.4V561.3M330.5 476.0V559.3M341.0 478.0V557.5M360.3 478.0V555.6M369.0 476.0V554.8M377.5 476.7V556.6M382.6 478.0V557.5M387.8 480.0V554.6M407.0 476.7V556.6M413.0 476.7V553.5M426.8 476.7V555.9M435.2 476.7V554.8M442.6 478.0V554.8M447.0 478.0V558.2M454.6 478.3V557.0M461.1 479.0V557.0M467.5 478.0V560.0M472.8 475.1V561.3M496.0 480.0V551.5M514.1 480.0V552.6M531.6 478.0V554.8M537.7 478.0V555.9M552.4 476.7V554.3M555.4 478.0V553.0M563.9 478.0V556.6M577.8 477.4V554.8M587.0 478.3V556.6M594.8 476.0V555.6M600.5 476.0V559.3M603.8 476.0V559.3M605.0 476.0V559.3M609.2 477.4V558.6M616.8 479.1V557.9M621.8 478.0V558.6M626.6 479.1V557.5M635.9 475.4V559.3M642.0 478.0V561.3M646.5 477.4V554.6M660.1 478.0V558.6M685.0 476.7V559.3M707.0 475.1V555.2M718.4 476.4V554.6M729.2 478.0V559.7" stroke="#000" stroke-width="1.9" fill="none"/>
<polyline points="26.4,524.1 27.9,523.2 29.4,523.9 30.9,524.0 32.4,523.2 33.9,523.7 35.4,524.0 36.9,523.4 38.4,524.0 39.9,524.0 41.4,523.5 42.9,523.2 44.4,523.3 45.9,523.9 47.4,523.5 48.9,523.4 50.4,523.5 51.9,524.0 53.4,523.4 54.9,523.1 56.4,524.0 57.9,523.4 59.4,523.5 60.9,524.1 62.4,523.4 63.9,523.2 65.4,524.0 66.9,523.3 68.4,523.3 69.9,524.0 71.4,523.3 72.9,524.0 74.4,523.4 75.9,523.4 77.4,523.3 78.9,523.6 80.4,523.7 81.9,523.5 83.4,523.6 84.9,523.4 86.4,523.9 87.9,524.0 89.4,523.9 90.9,523.9 92.4,523.2 93.9,523.4 95.4,523.3 96.9,523.3 98.4,524.1 99.9,524.0 101.4,524.0 102.9,523.7 104.4,523.2 105.9,523.5 107.4,523.2 108.9,524.0 110.4,523.4 111.9,523.4 113.4,524.0 114.9,523.3 116.4,524.0 117.9,523.4 119.4,523.8 120.9,523.2 122.4,524.0 123.9,523.5 125.4,523.4 126.9,523.8 128.4,523.7 129.9,523.4 131.4,523.2 132.9,523.7 134.4,523.1 135.9,524.0 137.4,523.4 138.9,523.3 140.4,523.4 141.9,523.2 143.4,523.4 144.9,523.6 146.4,523.5 147.9,523.4 149.4,523.4 150.9,523.6 152.4,523.9 153.9,523.5 155.4,523.9 156.9,523.6 158.4,523.2 159.9,523.3 161.4,523.9 162.9,523.6 164.4,523.5 165.9,523.6 167.4,523.9 168.9,523.5 170.4,523.5 171.9,523.5 173.4,523.1 174.9,523.6 176.4,523.6 177.9,523.6 179.4,523.6 180.9,523.6 182.4,523.8 183.9,523.3 185.4,524.1 186.9,523.2 188.4,524.0 189.9,523.3 191.4,523.9 192.9,523.4 194.4,523.2 195.9,523.6 197.4,523.9 198.9,523.9 200.4,524.0 201.9,524.1 203.4,523.2 204.9,523.5 206.4,523.2 207.9,523.9 209.4,523.6 210.9,523.8 212.4,523.9 213.9,524.1 215.4,523.8 216.9,524.0 218.4,523.6 219.9,523.2 221.4,524.0 222.9,523.2 224.4,523.2 225.9,523.9 227.4,523.4 228.9,523.8 230.4,523.1 231.9,523.3 233.4,523.8 234.9,523.1 236.4,523.6 237.9,524.0 239.4,523.3 240.9,523.8 242.4,523.8 243.9,523.7 245.4,523.9 246.9,523.8 248.4,523.1 249.9,523.3 251.4,523.6 252.9,524.1 254.4,523.3 255.9,523.7 257.4,523.2 258.9,523.9 260.4,523.5 261.9,523.6 263.4,523.8 264.9,523.2 266.4,523.8 267.9,523.9 269.4,524.0 270.9,523.4 272.4,523.3 273.9,523.3 275.4,524.0 276.9,523.5 278.4,523.5 279.9,523.6 281.4,523.8 282.9,523.4 284.4,523.4 285.9,523.9 287.4,523.9 288.9,523.4 290.4,523.2 291.9,524.0 293.4,523.8 294.9,523.7 296.4,523.5 297.9,524.1 299.4,523.5 300.9,523.3 302.4,523.2 303.9,523.5 305.4,523.7 306.9,523.5 308.4,524.0 309.9,523.7 311.4,523.6 312.9,523.8 314.4,523.7 315.9,523.7 317.4,523.6 318.9,523.6 320.4,523.6 321.9,523.9 323.4,523.3 324.9,523.9 326.4,523.4 327.9,523.9 329.4,523.2 330.9,523.6 332.4,523.5 333.9,523.8 335.4,523.3 336.9,523.4 338.4,523.2 339.9,523.7 341.4,523.7 342.9,523.1 344.4,523.3 345.9,523.3 347.4,524.1 348.9,523.6 350.4,523.7 351.9,523.4 353.4,523.8 354.9,523.9 356.4,523.8 357.9,523.1 359.4,523.5 360.9,523.6 362.4,523.1 363.9,523.9 365.4,523.4 366.9,523.4 368.4,523.7 369.9,523.7 371.4,523.6 372.9,524.0 374.4,523.6 375.9,523.4 377.4,523.2 378.9,523.7 380.4,523.5 381.9,523.6 383.4,523.4 384.9,523.1 386.4,523.1 387.9,523.3 389.4,523.2 390.9,524.0 392.4,523.7 393.9,523.3 395.4,523.8 396.9,523.7 398.4,523.2 399.9,523.9 401.4,523.3 402.9,524.1 404.4,523.2 405.9,523.4 407.4,523.3 408.9,524.0 410.4,523.9 411.9,523.7 413.4,523.2 414.9,523.5 416.4,523.8 417.9,523.2 419.4,524.0 420.9,523.9 422.4,524.0 423.9,523.8 425.4,523.7 426.9,524.1 428.4,523.4 429.9,523.4 431.4,523.2 432.9,523.3 434.4,523.9 435.9,523.2 437.4,523.8 438.9,523.5 440.4,524.0 441.9,523.9 443.4,523.8 444.9,523.9 446.4,523.1 447.9,523.4 449.4,523.5 450.9,523.5 452.4,523.8 453.9,524.0 455.4,523.8 456.9,524.0 458.4,523.8 459.9,523.5 461.4,523.6 462.9,523.8 464.4,523.9 465.9,523.5 467.4,523.5 468.9,523.7 470.4,523.3 471.9,524.0 473.4,523.1 474.9,523.7 476.4,523.6 477.9,523.3 479.4,523.7 480.9,523.6 482.4,524.1 483.9,524.0 485.4,523.7 486.9,524.0 488.4,524.0 489.9,523.3 491.4,523.9 492.9,523.9 494.4,524.1 495.9,523.9 497.4,523.5 498.9,523.3 500.4,523.8 501.9,523.3 503.4,523.9 504.9,523.7 506.4,523.9 507.9,523.5 509.4,523.4 510.9,524.0 512.4,523.8 513.9,523.5 515.4,523.7 516.9,523.5 518.4,523.7 519.9,523.6 521.4,523.4 522.9,524.1 524.4,524.0 525.9,523.9 527.4,523.4 528.9,523.3 530.4,523.8 531.9,523.9 533.4,523.8 534.9,523.3 536.4,523.8 537.9,523.6 539.4,523.5 540.9,523.7 542.4,523.5 543.9,523.7 545.4,523.9 546.9,524.1 548.4,523.2 549.9,523.7 551.4,524.0 552.9,523.8 554.4,523.7 555.9,524.0 557.4,523.1 558.9,523.9 560.4,523.7 561.9,523.7 563.4,523.4 564.9,523.7 566.4,523.2 567.9,523.6 569.4,523.4 570.9,524.0 572.4,523.9 573.9,523.6 575.4,523.9 576.9,523.5 578.4,523.6 579.9,523.3 581.4,524.0 582.9,523.9 584.4,523.9 585.9,523.2 587.4,523.9 588.9,523.1 590.4,523.7 591.9,523.6 593.4,523.2 594.9,523.5 596.4,524.0 597.9,523.7 599.4,523.4 600.9,523.9 602.4,523.5 603.9,524.0 605.4,523.5 606.9,523.2 608.4,524.1 609.9,523.2 611.4,523.4 612.9,523.9 614.4,523.2 615.9,523.6 617.4,524.0 618.9,523.7 620.4,523.4 621.9,523.9 623.4,523.9 624.9,523.7 626.4,523.7 627.9,523.4 629.4,523.5 630.9,524.1 632.4,524.1 633.9,523.1 635.4,523.3 636.9,523.3 638.4,523.9 639.9,523.3 641.4,523.3 642.9,523.9 644.4,523.3 645.9,524.1 647.4,523.6 648.9,524.0 650.4,523.9 651.9,523.3 653.4,523.9 654.9,523.5 656.4,523.3 657.9,523.1 659.4,523.8 660.9,523.7 662.4,523.4 663.9,523.9 665.4,523.3 666.9,523.5 668.4,523.2 669.9,523.5 671.4,524.0 672.9,523.6 674.4,523.3 675.9,523.3 677.4,523.7 678.9,523.4 680.4,524.0 681.9,523.2 683.4,524.0 684.9,523.7 686.4,523.9 687.9,523.5 689.4,523.2 690.9,523.3 692.4,523.7 693.9,523.1 695.4,523.2 696.9,523.9 698.4,524.0 699.9,524.0 701.4,523.9 702.9,523.7 704.4,524.0 705.9,523.8 707.4,523.7 708.9,523.5 710.4,523.1 711.9,523.2 713.4,523.3 714.9,523.6 716.4,523.2 717.9,524.1 719.4,523.7 720.9,523.8 722.4,524.0 723.9,523.3 725.4,524.0 726.9,524.1 728.4,523.4 729.9,523.2 731.4,523.9 732.9,524.0 734.4,523.9 735.9,523.5 737.4,523.7 738.9,523.2 740.4,523.3" stroke="#000" stroke-width="5.0" fill="none"/>
<text transform="translate(10.93,620.40) scale(0.973,1)" font-size="28.99" font-weight="bold" fill="#000" color="#000">D</text>
<text transform="translate(336.85,625.61) scale(1.081,1)" font-size="17.55" fill="#000" color="#000">2 mM Agmatine</text>
<rect x="304" y="636" width="198.3" height="206.5" fill="#c0c0c0"/>
<path d="M93.2 829.8H102.6V676.9H93.2ZM102.6 829.8H117.2V692H102.6ZM117.2 829.8H130.5V710.4H117.2ZM130.5 829.8H145.1V677H130.5ZM145.1 829.8H158V699.5H145.1ZM158 829.8H172.6V677H158ZM172.6 829.8H187V704.9H172.6ZM187 829.8H200.3V688.3H187ZM200.3 829.8H214.9V648H200.3ZM214.9 829.8H229.3V686.2H214.9ZM229.3 829.8H243.6V697.6H229.3ZM243.6 829.8H256.5V714.7H243.6ZM256.5 829.8H271.1V666.8H256.5ZM271.1 829.8H285.5V676.5H271.1ZM285.5 829.8H299.4V714.7H285.5ZM299.4 829.8H313V724.8H299.4ZM313 829.8H327.4V704.9H313ZM327.4 829.8H341.7V714.7H327.4ZM341.7 829.8H355.7V733.9H341.7ZM355.7 829.8H383.2V762.9H355.7ZM383.2 829.8H397.2V767.1H383.2ZM397.2 829.8H411.8V770.6H397.2ZM411.8 829.8H425.1V780H411.8ZM425.1 829.8H439.1V776H425.1ZM439.1 829.8H453.7V772.7H439.1ZM453.7 829.8H467V781.1H453.7ZM467 829.8H482V752.8H467ZM482 829.8H496V762.9H482ZM496 829.8H509.3V772.7H496ZM509.3 829.8H523.9V752.8H509.3ZM523.9 829.8H538.5V762.9H523.9ZM538.5 829.8H551V772.7H538.5ZM551 829.8H566.1V724.8H551ZM566.1 829.8H581.1V791H566.1ZM581.1 829.8H594.4V739.4H581.1ZM594.4 829.8H608V746.7H594.4ZM608 829.8H621.1V734H608ZM621.1 829.8H635.9V715H621.1ZM635.9 829.8H664.4V724.5H635.9ZM664.4 829.8H678.5V676.6H664.4ZM678.5 829.8H691.8V704.8H678.5ZM691.8 829.8H706.6V647.4H691.8ZM706.6 829.8H720.7V686H706.6ZM720.7 829.8H734.4V677.4H720.7ZM734.4 829.8H739.3V704.8H734.4Z" fill="#060606"/>
<path d="M102.6 676.9V713M145.1 699.5V733M172.6 677V715M229.3 686.2V733M397.2 767.1V790" stroke="#bbb" stroke-width="0.6" fill="none"/>
<path d="M88.2 636V829.4M72 636H88.2M72 685.7H88.2M72 733H88.2M72 780.6H88.2M72 828.9H88.2" stroke="#000" stroke-width="1.8" fill="none"/>
<path d="M95.4 829.8V832.6" stroke="#333" stroke-width="1" />
<text transform="translate(43.69,642.85) scale(1.020,1)" font-size="18.70" fill="#000" color="#000">20</text>
<text transform="translate(43.69,692.46) scale(1.020,1)" font-size="18.70" fill="#000" color="#000">15</text>
<text transform="translate(43.69,739.85) scale(1.020,1)" font-size="18.70" fill="#000" color="#000">10</text>
<text transform="translate(54.18,835.75) scale(1.020,1)" font-size="18.70" fill="#000" color="#000">0</text>
<text transform="translate(30.95,764.35) rotate(-90) scale(1.005,1)" font-size="18.83" fill="#000" color="#000">Spikes/s</text>
<rect x="599" y="841.6" width="140.3" height="7" fill="#000"/>
<text transform="translate(638.27,868.73) scale(1.095,1)" font-size="17.43" fill="#000" color="#000">10 min</text>
<text transform="translate(11.21,916.40) scale(0.935,1)" font-size="28.84" font-weight="bold" fill="#000" color="#000">E</text>
<rect x="105" y="924.8" width="43.7" height="237.0" fill="#fff" stroke="#000" stroke-width="1.8"/>
<rect x="148.7" y="993.9" width="44" height="167.9" fill="#c0c0c0" stroke="#000" stroke-width="1.8"/>
<rect x="192.7" y="946.6" width="44.7" height="215.2" fill="#404040" stroke="#000" stroke-width="1.8"/>
<path d="M170.6 993.9V980.1M160.9 980.1H180.5M214.8 946.6V926.4M205.2 926.4H225" stroke="#000" stroke-width="1.8" fill="none"/>
<path d="M87.6 924.2V1161.8M72.5 1161.8H254.6M72.3 924.2H87.6M72.3 983.6H87.6M72.3 1043.0H87.6M72.3 1102.4H87.6M72.3 1161.8H87.6M77.1 953.9H87.6M77.1 1013.3H87.6M77.1 1072.7H87.6M77.1 1132.1H87.6" stroke="#000" stroke-width="1.9" fill="none"/>
<text transform="translate(32.51,931.25) scale(1.020,1)" font-size="18.70" fill="#000" color="#000">100</text>
<text transform="translate(43.19,990.56) scale(1.020,1)" font-size="18.70" fill="#000" color="#000">75</text>
<text transform="translate(43.19,1050.05) scale(1.020,1)" font-size="18.70" fill="#000" color="#000">50</text>
<text transform="translate(43.19,1109.45) scale(1.020,1)" font-size="18.70" fill="#000" color="#000">25</text>
<text transform="translate(53.68,1168.85) scale(1.020,1)" font-size="18.70" fill="#000" color="#000">0</text>
<text transform="translate(26.71,1129.41) rotate(-90) scale(1.022,1)" font-size="18.51" fill="#000" color="#000">Mean firing rate [%]</text>
<path d="M161.60 966.30L161.60 958.30M161.60 966.30L169.21 963.83M161.60 966.30L153.99 963.83M161.60 966.30L166.30 972.77M161.60 966.30L156.90 972.77" stroke="#000" stroke-width="3.6" fill="none"/>
<path d="M180.20 966.30L180.20 958.30M180.20 966.30L187.81 963.83M180.20 966.30L172.59 963.83M180.20 966.30L184.90 972.77M180.20 966.30L175.50 972.77" stroke="#000" stroke-width="3.6" fill="none"/>
<text transform="translate(134.7,1177.0) rotate(-45)" font-size="17.5" font-weight="bold" text-anchor="end">Control</text>
<text transform="translate(180.25,1173.2) rotate(-45)" font-size="18" font-weight="bold" text-anchor="end">Agmatine</text>
<text transform="translate(224.25,1175.75) rotate(-45)" font-size="18.76" font-weight="bold" text-anchor="end">Wash</text>
<text transform="translate(316.41,915.90) scale(0.951,1)" font-size="28.41" font-weight="bold" fill="#000" color="#000">F</text>
<rect x="486.7" y="938.6" width="115.6" height="196.6" fill="#adadad"/>
<text transform="translate(505.80,926.70) scale(1.098,1)" font-size="17.13" fill="#000" color="#000">Agmatine</text>
<line x1="395.5" y1="976.8" x2="745" y2="976.8" stroke="#000" stroke-width="1.6" stroke-dasharray="1.6,1.6"/>
<path d="M394.8 925.8V1123M394.8 1128.2V1160.9M385.2 1160.9H740.3M385.3 925.9H394.8M385.3 976.6H394.8M385.3 1027.3H394.8M385.3 1078.1H394.8M390.5 951.2H394.8M390.5 1002.0H394.8M390.5 1052.7H394.8M390.5 1103.5H394.8M385.3 1138.4H394.8M390.5 1150H394.8M417.7 1160.9V1169.8M440.6 1160.9V1165.5M463.6 1160.9V1165.5M486.6 1160.9V1169.8M509.6 1160.9V1165.5M532.6 1160.9V1165.5M555.5 1160.9V1169.8M578.5 1160.9V1165.5M601.5 1160.9V1165.5M624.5 1160.9V1169.8M647.5 1160.9V1165.5M670.4 1160.9V1165.5M693.4 1160.9V1169.8M716.4 1160.9V1165.5M739.4 1160.9V1165.5M394.8 1160.9V1165.7" stroke="#000" stroke-width="1.8" fill="none"/>
<path d="M385.5 1126.5L403.6 1121.9M385.5 1129.9L403.6 1125.5" stroke="#000" stroke-width="1.6" fill="none"/>
<text transform="translate(348.44,932.90) scale(1.020,1)" font-size="18.70" fill="#000" color="#000">110</text>
<text transform="translate(346.91,983.65) scale(1.020,1)" font-size="18.70" fill="#000" color="#000">100</text>
<text transform="translate(357.59,1034.40) scale(1.020,1)" font-size="18.70" fill="#000" color="#000">90</text>
<text transform="translate(357.59,1085.15) scale(1.020,1)" font-size="18.70" fill="#000" color="#000">80</text>
<text transform="translate(357.59,1145.45) scale(1.020,1)" font-size="18.70" fill="#000" color="#000">10</text>
<text transform="translate(368.08,1167.95) scale(1.020,1)" font-size="18.70" fill="#000" color="#000">0</text>
<text transform="translate(411.61,1190.55) scale(1.020,1)" font-size="18.70" fill="#000" color="#000">-9</text>
<text transform="translate(483.56,1190.55) scale(1.020,1)" font-size="18.70" fill="#000" color="#000">0</text>
<text transform="translate(552.56,1190.55) scale(1.020,1)" font-size="18.70" fill="#000" color="#000">9</text>
<text transform="translate(616.83,1190.55) scale(1.020,1)" font-size="18.70" fill="#000" color="#000">18</text>
<text transform="translate(684.86,1190.64) scale(1.020,1)" font-size="18.70" fill="#000" color="#000">27</text>
<text transform="translate(515.22,1216.47) scale(1.020,1)" font-size="18.72" fill="#000" color="#000">Time [min]</text>
<text transform="translate(331.36,1126.71) rotate(-90) scale(1.033,1)" font-size="18.30" fill="#000" color="#000">Mean firing rate [%]</text>
<text transform="translate(687.63,1138.81) scale(0.986,1)" font-size="18.73" fill="#000" color="#000"><tspan font-style="italic">n</tspan> = 13</text>
<path d="M417.7 982.5L440.6 969.4M440.6 969.4L463.6 979.3M463.6 979.3L486.6 977.2M486.6 977.2L509.6 1030.7M509.6 1030.7L532.6 1056.6M532.6 1056.6L555.5 1072.5M555.5 1072.5L578.5 1098.1M578.5 1098.1L601.5 1076.9M601.5 1076.9L624.5 1052.9M624.5 1052.9L647.5 1068.8M647.5 1068.8L670.4 1065.5M670.4 1065.5L693.4 1051.4M693.4 1051.4L716.4 1037.4" stroke="#000" stroke-width="1.3" fill="none"/>
<path d="M417.7 974V990.6M413.8 974H421.6M413.8 990.6H421.6M440.6 961.9V977.2M436.7 961.9H444.5M436.7 977.2H444.5M463.6 970V987.4M459.7 970H467.5M459.7 987.4H467.5M509.6 1019.7V1041.8M505.7 1019.7H513.5M505.7 1041.8H513.5M532.6 1038.1V1075.1M528.7 1038.1H536.5M528.7 1075.1H536.5M555.5 1045.5V1099.8M551.6 1045.5H559.4M551.6 1099.8H559.4M578.5 1083.4V1113.1M574.6 1083.4H582.4M574.6 1113.1H582.4M601.5 1044.6V1109.4M597.6 1044.6H605.4M597.6 1109.4H605.4M624.5 1031.5V1073.6M620.6 1031.5H628.4M620.6 1073.6H628.4M647.5 1039.2V1098.2M643.6 1039.2H651.4M643.6 1098.2H651.4M670.4 1026.3V1103.9M666.5 1026.3H674.3M666.5 1103.9H674.3M693.4 1025.2V1077.8M689.5 1025.2H697.3M689.5 1077.8H697.3M716.4 1001.9V1072.8M712.5 1001.9H720.3M712.5 1072.8H720.3" stroke="#000" stroke-width="1.8" fill="none"/>
<circle cx="417.7" cy="982.5" r="5.4" fill="#000"/>
<circle cx="440.6" cy="969.4" r="5.4" fill="#000"/>
<circle cx="463.6" cy="979.3" r="5.4" fill="#000"/>
<circle cx="486.6" cy="977.2" r="5.4" fill="#000"/>
<circle cx="509.6" cy="1030.7" r="5.4" fill="#000"/>
<circle cx="532.6" cy="1056.6" r="5.4" fill="#000"/>
<circle cx="555.5" cy="1072.5" r="5.4" fill="#000"/>
<circle cx="578.5" cy="1098.1" r="5.4" fill="#000"/>
<circle cx="601.5" cy="1076.9" r="5.4" fill="#000"/>
<circle cx="624.5" cy="1052.9" r="5.4" fill="#000"/>
<circle cx="647.5" cy="1068.8" r="5.4" fill="#000"/>
<circle cx="670.4" cy="1065.5" r="5.4" fill="#000"/>
<circle cx="693.4" cy="1051.4" r="5.4" fill="#000"/>
<circle cx="716.4" cy="1037.4" r="5.4" fill="#000"/>
</svg></body></html>
